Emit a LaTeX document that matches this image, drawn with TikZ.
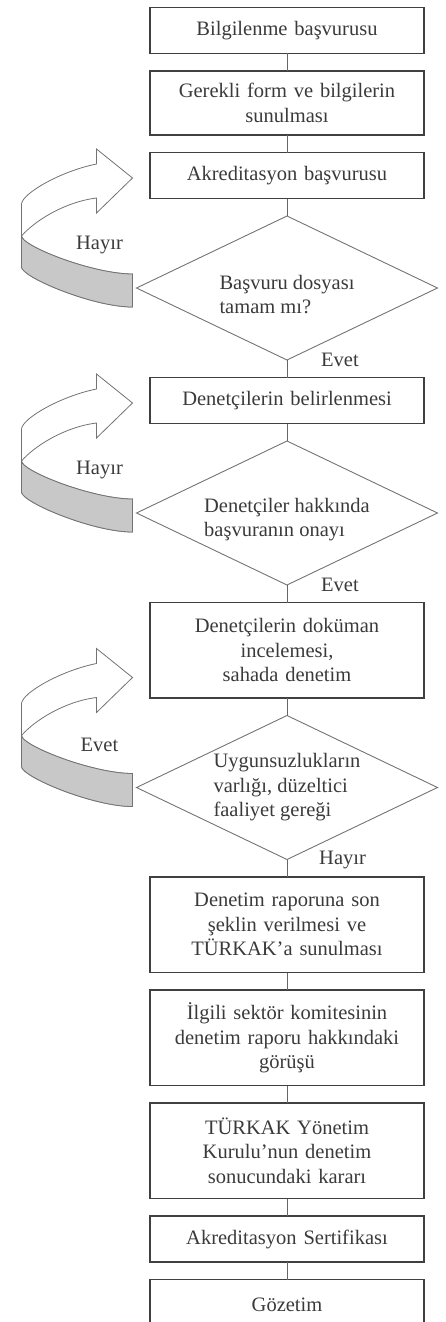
\documentclass[tikz,border=0pt]{standalone}
\usepackage{fontspec}
\setmainfont{Liberation Serif}
\usetikzlibrary{positioning, shapes.geometric, calc}

\definecolor{inkgray}{HTML}{3A3A3A}
\definecolor{bandgray}{HTML}{C8C8C8}

% curved return arrow on the left of a decision
\newcommand{\backturn}[3]{%
  \begin{scope}[shift={($(#1.west)+(-4,-2)$)}]
    \filldraw[turn] (0,-17) .. controls (-40,-17) and (-111,13) .. (-111,23) -- (-111,86)
      .. controls (-110,97) and (-71,119) .. (-36,126) -- (-36,141) -- (0,112) -- (-36,77) -- (-36,92)
      .. controls (-68,88) and (-98,69) .. (-111,54) .. controls (-111,44) and (-40,16) .. (0,16) -- cycle;
    \filldraw[turn, fill=bandgray] (-111,54) .. controls (-111,44) and (-40,16) .. (0,16)
      -- (0,-17) .. controls (-40,-17) and (-111,13) .. (-111,23) -- cycle;
    \node[lbl] (#2) at (-33,45) {#3};
  \end{scope}}

\begin{document}
\begin{tikzpicture}[x=1pt, y=1pt, node distance=17.5pt,
    every node/.style={font=\fontsize{20.5}{24.5}\selectfont, text=inkgray},
    box/.style={draw=black!75, line width=1.3pt, minimum width=274pt, text width=250pt,
      align=center, inner sep=4pt, outer sep=0pt, minimum height=46pt},
    tall/.style={minimum height=95.5pt},
    decision/.style={diamond, draw=black!55, line width=0.9pt, minimum width=301pt,
      minimum height=144pt, aspect=2.08, inner sep=0pt, outer sep=0pt, align=left},
    low/.style={text height=52pt},
    link/.style={draw=black!60, line width=1pt},
    turn/.style={draw=black!55, line width=0.8pt, fill=white},
    lbl/.style={inner sep=0pt}]
    \path[use as bounding box, clip] (0,0) rectangle (445,-1322);

    \node[box] (b1) at (287,-30.5) {Bilgilenme başvurusu};
    \node[box, minimum height=64pt, below=of b1] (b2) {Gerekli form ve bilgilerin\\sunulması};
    \node[box, below=of b2] (b3) {Akreditasyon başvurusu};
    \node[decision, low, below=of b3] (d1) {Başvuru dosyası\\tamam mı?};
    \node[box, below=of d1] (b4) {Denetçilerin belirlenmesi};
    \node[decision, low, below=of b4] (d2) {Denetçiler hakkında\\başvuranın onayı};
    \node[box, tall, below=of d2] (b5) {Denetçilerin doküman\\incelemesi,\\sahada denetim};
    \node[decision, below=of b5] (d3) {Uygunsuzlukların\\varlığı, düzeltici\\faaliyet gereği};
    \node[box, tall, below=of d3] (b6) {Denetim raporuna son\\şeklin verilmesi ve\\TÜRKAK’a sunulması};
    \node[box, tall, below=of b6] (b7) {İlgili sektör komitesinin\\denetim raporu hakkındaki\\görüşü};
    \node[box, tall, below=of b7] (b8) {TÜRKAK Yönetim\\Kurulu’nun denetim\\sonucundaki kararı};
    \node[box, below=of b8] (b9) {Akreditasyon Sertifikası};
    \node[box, minimum height=50pt, below=of b9] (b10) {Gözetim};

    \foreach \a/\b in {b1/b2, b2/b3, b3/d1, d1/b4, b4/d2, d2/b5, b5/d3, d3/b6, b6/b7, b7/b8, b8/b9, b9/b10}
      \draw[link] (\a) -- (\b);

    \node[lbl, right=34pt of d1.south] (y1) {Evet};
    \node[lbl, right=34pt of d2.south] (y2) {Evet};
    \node[lbl, right=32pt of d3.south] (y3) {Hayır};

    \backturn{d1}{n1}{Hayır}
    \backturn{d2}{n2}{Hayır}
    \backturn{d3}{n3}{Evet}
\end{tikzpicture}
\end{document}
